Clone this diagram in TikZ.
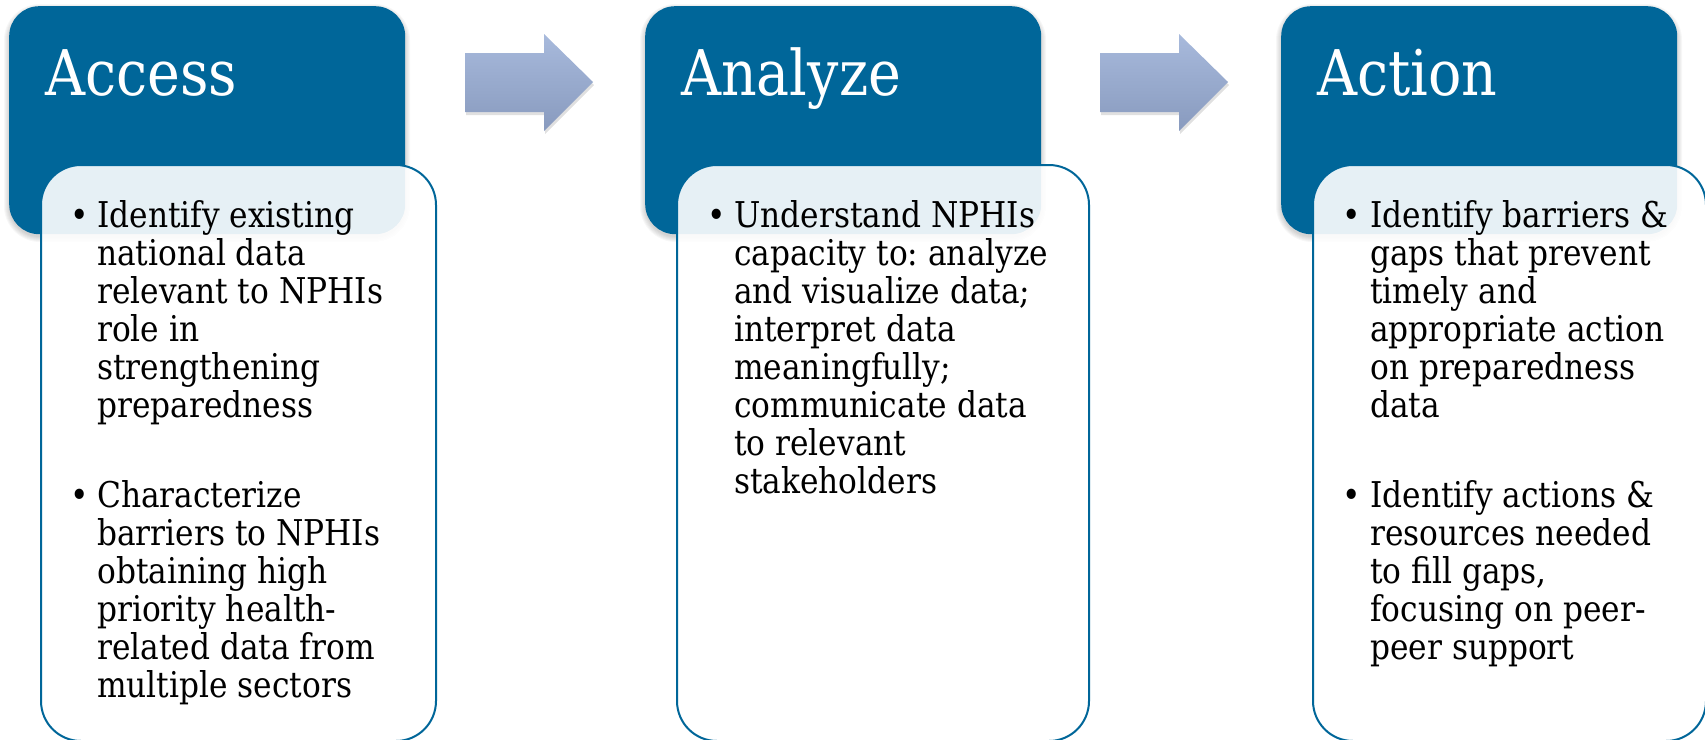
\documentclass[tikz,border=0pt]{standalone}
\usepackage{fontspec}
\setmainfont{DejaVu Serif}[FakeStretch=0.88]
\definecolor{mainblue}{RGB}{0,102,153}
\definecolor{arrowtop}{RGB}{168,186,220}
\definecolor{arrowbot}{RGB}{136,154,190}
\newcommand{\stk}[1]{\vtop{\lineskiplimit=-1000pt\halign{##\hfil\cr#1\crcr}}}
\frenchspacing
\begin{document}
\begin{tikzpicture}[x=1pt,y=-1pt,
  bluebox/.style={fill=mainblue, rounded corners=30pt, minimum width=396pt, minimum height=228pt, anchor=north west, inner sep=0pt},
  whitebox/.style={draw=mainblue, line width=2pt, fill=white, fill opacity=0.9, rounded corners=40pt, minimum height=576pt, anchor=north west, inner sep=0pt},
  titletext/.style={text=white, font=\fontsize{63}{63}\selectfont, anchor=base west, inner sep=0pt},
  bul/.style={font=\fontsize{35.5}{38}\selectfont, anchor=base, inner sep=0pt},
  body/.style={font=\fontsize{35.5}{38}\selectfont, anchor=base west, inner sep=0pt},
  flowarrow/.style={top color=arrowtop, bottom color=arrowbot, draw=none},
  shadowlayer/.style={fill=black, opacity=0.03}]
\useasboundingbox (0,0) rectangle (1705,739);

% soft shadows of the blue boxes
\foreach \bx in {9,645,1281}{
  \foreach \i in {1,...,6}{
    \pgfmathsetmacro{\rr}{30+\i}
    \fill[shadowlayer, rounded corners=\rr pt] ({\bx-\i+1},{6-\i+4}) rectangle ({\bx+396+\i-1},{234+\i+2});
  }
}

% blue title boxes
\node[bluebox] (b1) at (9,6) {};
\node[bluebox] (b2) at (645,6) {};
\node[bluebox] (b3) at (1281,6) {};

% titles
\node[titletext] (t1) at (45,95) {Access};
\node[titletext] (t2) at (681,95) {Analyze};
\node[titletext] (t3) at (1317,95) {Action};

% white text boxes
\node[whitebox, minimum width=395pt] (w1) at (40,164) {};
\node[whitebox, minimum width=412pt] (w2) at (676,164) {};
\node[whitebox, minimum width=393pt] (w3) at (1312,164) {};

% arrows with shadow
\foreach \ax in {465,1100}{
  \fill[black, opacity=0.12] ({\ax+1},56) -- ({\ax+80},56) -- ({\ax+80},37) -- ({\ax+129},85) -- ({\ax+80},134) -- ({\ax+80},115) -- ({\ax+1},115) -- cycle;
  \shade[flowarrow] (\ax,53) -- ({\ax+79},53) -- ({\ax+79},34) -- ({\ax+128},82) -- ({\ax+79},131) -- ({\ax+79},112) -- (\ax,112) -- cycle;
}

% Access bullets
\node[bul] (d1a) at (80,227) {•};
\node[body] (p1a) at (97,227) {\stk{Identify existing\cr national data\cr relevant to NPHIs\cr role in\cr strengthening\cr preparedness}};
\node[bul] (d1b) at (80,507) {•};
\node[body] (p1b) at (97,507) {\stk{Characterize\cr barriers to NPHIs\cr obtaining high\cr priority health-\cr related data from\cr multiple sectors}};

% Analyze bullet
\node[bul] (d2a) at (717,227) {•};
\node[body] (p2a) at (734,227) {\stk{Understand NPHIs\cr capacity to: analyze\cr and visualize data;\cr interpret data\cr meaningfully;\cr communicate data\cr to relevant\cr stakeholders}};

% Action bullets
\node[bul] (d3a) at (1352,227) {•};
\node[body] (p3a) at (1370,227) {\stk{Identify barriers \&\cr gaps that prevent\cr timely and\cr appropriate action\cr on preparedness\cr data}};
\node[bul] (d3b) at (1352,507) {•};
\node[body] (p3b) at (1370,507) {\stk{Identify actions \&\cr resources needed\cr to fill gaps,\cr focusing on peer-\cr peer support}};
\end{tikzpicture}
\end{document}
